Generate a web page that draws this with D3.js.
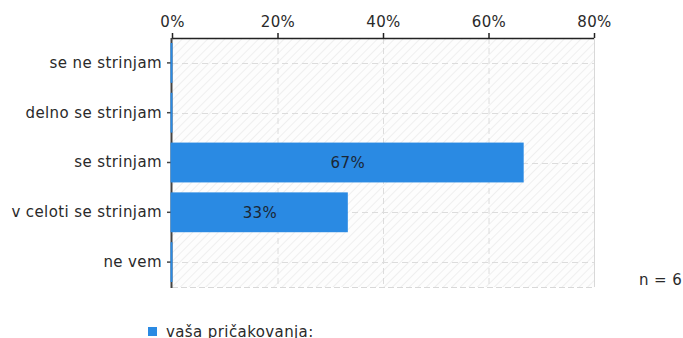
<!DOCTYPE html>
<html><head><meta charset="utf-8">
<script src="https://cdn.jsdelivr.net/npm/d3@7"></script>
<style>
html,body{margin:0;padding:0;background:#fff;}
svg{display:block;font-family:"DejaVu Sans",Verdana,sans-serif;}
svg text{letter-spacing:0.4px;}
</style></head>
<body>
<svg id="chart" width="683" height="338"></svg>
<script>
const categories = ["se ne strinjam","delno se strinjam","se strinjam","v celoti se strinjam","ne vem"];
const values = [0, 0, 66.67, 33.33, 0];
const valueLabels = ["", "", "67%", "33%", ""];
const xTicks = [0, 20, 40, 60, 80];
const seriesName = "vaša pričakovanja:";
const nLabel = "n = 6";

(function(){
const svg = d3.select("#chart");
const pL = 172, pR = 594, pT = 38, pB = 287;
const FS = 15;
const barColor = "#2a8ae3";
const txt = "#2a2a2a";

const x = d3.scaleLinear().domain([0, 80]).range([pL, pR]);
const y = d3.scaleBand().domain(categories).range([pT, pB]).paddingInner(0.2).paddingOuter(0.1);
const yc = d3.scaleBand().domain(categories).range([pT, pB]);

const defs = svg.append("defs");
const pat = defs.append("pattern").attr("id","hatch").attr("patternUnits","userSpaceOnUse")
  .attr("width",6).attr("height",6).attr("patternTransform","rotate(45)");
pat.append("rect").attr("width",6).attr("height",6).attr("fill","#fdfdfd");
pat.append("line").attr("x1",0).attr("y1",0).attr("x2",0).attr("y2",6)
  .attr("stroke","#ebebeb").attr("stroke-width",1.5);

svg.append("rect").attr("x",pL).attr("y",pT).attr("width",pR-pL).attr("height",pB-pT)
  .attr("fill","url(#hatch)");

const g = svg.append("g");
g.selectAll("line.v").data(xTicks.slice(1,-1)).join("line")
  .attr("x1",d=>x(d)+0.5).attr("x2",d=>x(d)+0.5).attr("y1",pT).attr("y2",pB)
  .attr("stroke","#dcdcdc").attr("stroke-dasharray","6,4");
g.selectAll("line.h").data(categories).join("line")
  .attr("x1",pL).attr("x2",pR).attr("y1",d=>Math.round(yc(d)+yc.bandwidth()/2)+0.5).attr("y2",d=>Math.round(yc(d)+yc.bandwidth()/2)+0.5)
  .attr("stroke","#dcdcdc").attr("stroke-dasharray","6,4");
svg.append("line").attr("x1",pR+0.5).attr("x2",pR+0.5).attr("y1",pT).attr("y2",pB)
  .attr("stroke","#d8d8d8");
svg.append("line").attr("x1",pL).attr("x2",pR).attr("y1",pB+0.5).attr("y2",pB+0.5)
  .attr("stroke","#d8d8d8").attr("stroke-dasharray","6,3");

const xAxis = d3.axisTop(x).tickValues(xTicks).tickFormat(d=>d+"%").tickSize(5).tickPadding(6);
const ax = svg.append("g").attr("transform",`translate(0,${pT})`).call(xAxis);
ax.select(".domain").attr("d",`M${pL},0.5H${pR}`).attr("stroke","#222").attr("stroke-width",1.5);
ax.selectAll(".tick line").attr("stroke","#222").attr("stroke-width",1.5);
ax.selectAll(".tick text").attr("font-size",FS).attr("fill",txt).attr("font-family","DejaVu Sans");

const yAxis = d3.axisLeft(yc).tickSize(5).tickPadding(5);
const ay = svg.append("g").attr("transform",`translate(${pL},0)`).call(yAxis);
ay.select(".domain").attr("d",`M-0.5,${pT}V${pB+1}`).attr("stroke","#444").attr("stroke-width",2);
ay.selectAll(".tick line").attr("stroke","#444").attr("stroke-width",1.5);
ay.selectAll(".tick text").attr("font-size",FS).attr("fill",txt).attr("font-family","DejaVu Sans");

svg.selectAll("rect.bar").data(categories).join("rect").attr("class","bar")
  .attr("x",pL-1.5)
  .attr("y",d=>y(d))
  .attr("width",(d,i)=>Math.max(2, x(values[i])-pL+1.5))
  .attr("height",y.bandwidth())
  .attr("fill",barColor);

svg.selectAll("text.bl").data(categories).join("text").attr("class","bl")
  .attr("x",(d,i)=>(pL + x(values[i]))/2)
  .attr("y",d=>y(d)+y.bandwidth()/2)
  .attr("dy","0.35em").attr("text-anchor","middle")
  .attr("font-size",FS).attr("fill","#1b2634")
  .text((d,i)=>valueLabels[i]);

svg.append("text").attr("x",x(80)+45).attr("y",285).attr("font-size",FS).attr("fill",txt).text(nLabel);

svg.append("rect").attr("x",148).attr("y",327).attr("width",9).attr("height",9).attr("fill",barColor);
svg.append("text").attr("x",166).attr("y",337).attr("font-size",FS).attr("fill",txt).text(seriesName);
})();
</script>
</body></html>
